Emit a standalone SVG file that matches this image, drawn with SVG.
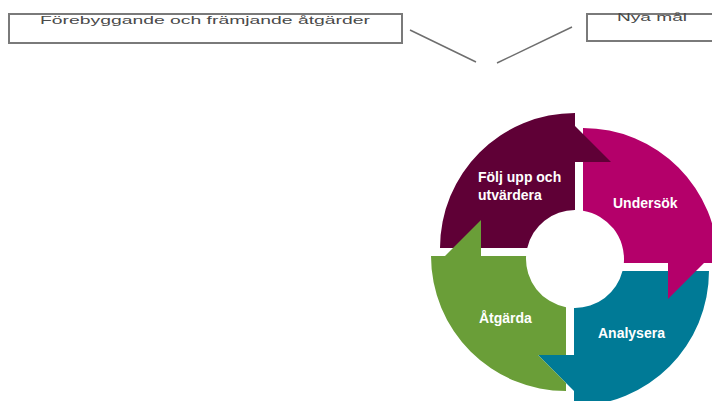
<svg xmlns="http://www.w3.org/2000/svg" width="712" height="401" viewBox="0 0 712 401">
<style>
.box{fill:#fff;stroke:#7a7a7a;stroke-width:2}
.btxt{font-family:"Liberation Sans",Arial,sans-serif;font-size:11px;fill:#4a4a4a}
.lbl{font-family:"Liberation Sans",Arial,sans-serif;font-size:14px;font-weight:bold;fill:#fff}
.conn{stroke:#6e6e6e;stroke-width:1.5;fill:none}
</style>
<rect width="712" height="401" fill="#fff"/>
<g id="box-forebyggande">
<rect class="box" x="9" y="14" width="393" height="29"/>
<text class="btxt" x="40" y="24" textLength="330" lengthAdjust="spacingAndGlyphs">Förebyggande och främjande åtgärder</text>
</g>
<g id="box-nya-mal">
<rect class="box" x="587" y="14" width="135" height="27"/>
<text class="btxt" x="617" y="21" textLength="70" lengthAdjust="spacingAndGlyphs">Nya mål</text>
</g>
<g id="connectors">
<line class="conn" x1="410" y1="30" x2="476" y2="62"/>
<line class="conn" x1="497" y1="63" x2="572" y2="27"/>
</g>
<g id="analysera">
<path fill="#007a96" d="M709,271 A135,135 0 0 1 574,406 L574,391 L538,355 L574,355 L574,308 A49,49 0 0 0 622.5,271 Z"/>
<text class="lbl" x="598" y="338">Analysera</text>
</g>
<g id="undersok">
<path fill="#b4006a" d="M583,128 A135,135 0 0 1 718,263 L704,263 L668,299 L668,263 L623.84,263 A49,49 0 0 0 583,210.66 Z"/>
<text class="lbl" x="613" y="208">Undersök</text>
</g>
<g id="folj-upp">
<path fill="#5f0036" d="M440,248 A135,135 0 0 1 575,113 L575,126 L611,162 L575,162 L575,210 A49,49 0 0 0 527.25,248 Z"/>
<text class="lbl" x="478" y="182">Följ upp och</text>
<text class="lbl" x="478" y="200">utvärdera</text>
</g>
<g id="atgarda">
<path fill="#6a9e38" d="M566,391 A135,135 0 0 1 431,256 L445,256 L481,220 L481,256 L526.09,256 A49,49 0 0 0 566,307.17 L566,355 L538,355 L566,383 Z"/>
<text class="lbl" x="479" y="323">Åtgärda</text>
</g>
</svg>
